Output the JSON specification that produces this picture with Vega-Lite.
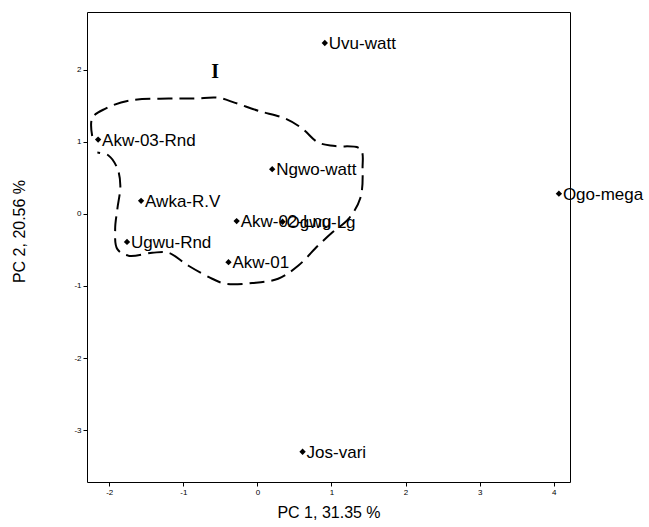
{
  "$schema": "https://vega.github.io/schema/vega-lite/v6.json",
  "autosize": {"type": "none"},
  "padding": {"left": 87, "top": 12, "right": 79, "bottom": 45},
  "width": 483,
  "height": 470,
  "background": "white",
  "config": {
    "view": {"stroke": "black", "strokeWidth": 1},
    "font": "Liberation Sans",
    "axis": {
      "grid": false,
      "domain": false,
      "tickColor": "black",
      "tickSize": 4,
      "labelFontSize": 8,
      "labelColor": "black",
      "labelPadding": 2,
      "labelFlush": false,
      "titleFontSize": 16,
      "titleFontWeight": "normal",
      "titleColor": "black",
      "titleFont": "Liberation Sans",
      "labelFont": "Liberation Sans"
    }
  },
  "datasets": {
    "pts": [
      {"name": "Uvu-watt", "pc1": 0.91, "pc2": 2.37},
      {"name": "Akw-03-Rnd", "pc1": -2.15, "pc2": 1.03},
      {"name": "Ngwo-watt", "pc1": 0.2, "pc2": 0.62},
      {"name": "Ogo-mega", "pc1": 4.07, "pc2": 0.28},
      {"name": "Awka-R.V", "pc1": -1.57, "pc2": 0.18},
      {"name": "Akw-02-Lng", "pc1": -0.28, "pc2": -0.1},
      {"name": "Ogwu-Lg", "pc1": 0.34, "pc2": -0.11},
      {"name": "Ugwu-Rnd", "pc1": -1.76, "pc2": -0.39},
      {"name": "Akw-01", "pc1": -0.39, "pc2": -0.67},
      {"name": "Jos-vari", "pc1": 0.61, "pc2": -3.3}
    ],
    "contour": [
      {"o": 1, "x": -2.23, "y": 1.08},
      {"o": 2, "x": -2.23, "y": 1.33},
      {"o": 3, "x": -2.05, "y": 1.46},
      {"o": 4, "x": -1.74, "y": 1.57},
      {"o": 5, "x": -1.2, "y": 1.6},
      {"o": 6, "x": -0.84, "y": 1.6},
      {"o": 7, "x": -0.53, "y": 1.61},
      {"o": 8, "x": -0.3, "y": 1.54},
      {"o": 9, "x": 0.01, "y": 1.43},
      {"o": 10, "x": 0.38, "y": 1.32},
      {"o": 11, "x": 0.61, "y": 1.18},
      {"o": 12, "x": 0.82, "y": 0.99},
      {"o": 13, "x": 1.05, "y": 0.94},
      {"o": 14, "x": 1.39, "y": 0.9},
      {"o": 15, "x": 1.42, "y": 0.63},
      {"o": 16, "x": 1.39, "y": 0.22},
      {"o": 17, "x": 1.23, "y": -0.07},
      {"o": 18, "x": 1.01, "y": -0.26},
      {"o": 19, "x": 0.82, "y": -0.44},
      {"o": 20, "x": 0.55, "y": -0.72},
      {"o": 21, "x": 0.28, "y": -0.9},
      {"o": 22, "x": -0.07, "y": -0.96},
      {"o": 23, "x": -0.43, "y": -0.97},
      {"o": 24, "x": -0.61, "y": -0.9},
      {"o": 25, "x": -0.93, "y": -0.72},
      {"o": 26, "x": -1.2, "y": -0.54},
      {"o": 27, "x": -1.42, "y": -0.54},
      {"o": 28, "x": -1.74, "y": -0.58},
      {"o": 29, "x": -1.89, "y": -0.49},
      {"o": 30, "x": -1.92, "y": -0.21},
      {"o": 31, "x": -1.89, "y": 0.07},
      {"o": 32, "x": -1.85, "y": 0.39},
      {"o": 33, "x": -1.89, "y": 0.63},
      {"o": 34, "x": -2.01, "y": 0.81},
      {"o": 35, "x": -2.16, "y": 0.85}
    ],
    "note": [{"label": "I", "x": -0.57, "y": 1.97}]
  },
  "layer": [
    {
      "data": {"name": "contour"},
      "mark": {"type": "line", "color": "black", "strokeWidth": 2, "strokeDash": [15, 7], "interpolate": "catmull-rom"},
      "encoding": {
        "x": {"field": "x", "type": "quantitative", "scale": {"domain": [-2.3, 4.22], "nice": false, "zero": false},
              "axis": {"values": [-2, -1, 0, 1, 2, 3, 4], "labelExpr": "toString(datum.value)", "title": "PC 1, 31.35 %", "titleY": 22, "titleBaseline": "top"}},
        "y": {"field": "y", "type": "quantitative", "scale": {"domain": [-3.72, 2.8], "nice": false, "zero": false},
              "axis": {"values": [-3, -2, -1, 0, 1, 2], "labelExpr": "toString(datum.value)", "title": "PC 2, 20.56 %", "titleX": -60, "titleY": 219}},
        "order": {"field": "o", "type": "quantitative"}
      }
    },
    {
      "data": {"name": "pts"},
      "mark": {"type": "point", "shape": "diamond", "filled": true, "color": "black", "size": 40, "opacity": 1},
      "encoding": {
        "x": {"field": "pc1", "type": "quantitative"},
        "y": {"field": "pc2", "type": "quantitative"}
      }
    },
    {
      "data": {"name": "pts"},
      "mark": {"type": "text", "align": "left", "baseline": "middle", "dx": 4, "dy": 1, "fontSize": 17, "font": "Liberation Sans", "color": "black"},
      "encoding": {
        "x": {"field": "pc1", "type": "quantitative"},
        "y": {"field": "pc2", "type": "quantitative"},
        "text": {"field": "name"}
      }
    },
    {
      "data": {"name": "note"},
      "mark": {"type": "text", "align": "center", "baseline": "middle", "fontSize": 20, "fontWeight": "bold", "font": "Liberation Serif", "color": "black"},
      "encoding": {
        "x": {"field": "x", "type": "quantitative"},
        "y": {"field": "y", "type": "quantitative"},
        "text": {"field": "label"}
      }
    }
  ]
}
